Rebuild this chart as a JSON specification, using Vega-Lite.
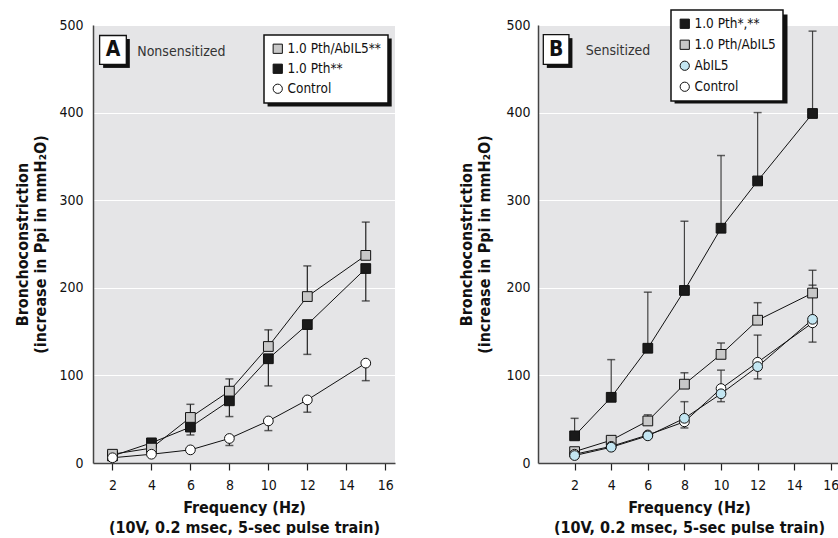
{
  "$schema": "https://vega.github.io/schema/vega-lite/v6.json",
  "padding": {"left": 14, "top": 9, "right": 0, "bottom": 0},
  "background": "white",
  "spacing": 63,
  "config": {
    "font": "DejaVu Sans Condensed",
    "view": {"fill": "#e5e5e7", "stroke": null},
    "axis": {
      "labelFont": "DejaVu Sans Condensed",
      "titleFont": "DejaVu Sans Condensed",
      "labelFontSize": 14,
      "titleFontSize": 16,
      "titleFontWeight": "bold",
      "labelColor": "#111",
      "titleColor": "#111",
      "domainColor": "#444",
      "domainWidth": 1.5,
      "gridColor": "white",
      "gridWidth": 1.2,
      "tickColor": "#222",
      "tickWidth": 1.2
    },
    "axisX": {"grid": false, "tickSize": 7, "labelPadding": 8, "titlePadding": 7, "titleLineHeight": 20, "labelFlush": false},
    "axisY": {"ticks": false, "labelPadding": 10, "titlePadding": 10, "titleLineHeight": 18},
    "legend": {
      "orient": "none",
      "fillColor": "white",
      "strokeColor": "#111",
      "strokeWidth": 1.5,
      "padding": 7,
      "rowPadding": 5,
      "labelFont": "DejaVu Sans Condensed",
      "labelFontSize": 13.5,
      "labelColor": "#111",
      "symbolStrokeColor": "#111",
      "symbolStrokeWidth": 1,
      "symbolSize": 85,
      "labelOffset": 3,
      "cornerRadius": 0
    }
  },
  "datasets": {
    "pts": [
      {"panel": "A", "group": "Pth", "freq": 2, "value": 8, "err": null},
      {"panel": "A", "group": "Pth", "freq": 4, "value": 23, "err": null},
      {"panel": "A", "group": "Pth", "freq": 6, "value": 41, "err": 32},
      {"panel": "A", "group": "Pth", "freq": 8, "value": 71, "err": 53},
      {"panel": "A", "group": "Pth", "freq": 10, "value": 119, "err": 88},
      {"panel": "A", "group": "Pth", "freq": 12, "value": 158, "err": 124},
      {"panel": "A", "group": "Pth", "freq": 15, "value": 222, "err": 185},
      {"panel": "A", "group": "PthAbIL5", "freq": 2, "value": 10, "err": null},
      {"panel": "A", "group": "PthAbIL5", "freq": 4, "value": 17, "err": null},
      {"panel": "A", "group": "PthAbIL5", "freq": 6, "value": 52, "err": 67},
      {"panel": "A", "group": "PthAbIL5", "freq": 8, "value": 82, "err": 96},
      {"panel": "A", "group": "PthAbIL5", "freq": 10, "value": 133, "err": 152},
      {"panel": "A", "group": "PthAbIL5", "freq": 12, "value": 190, "err": 225},
      {"panel": "A", "group": "PthAbIL5", "freq": 15, "value": 237, "err": 275},
      {"panel": "A", "group": "Control", "freq": 2, "value": 6, "err": null},
      {"panel": "A", "group": "Control", "freq": 4, "value": 10, "err": null},
      {"panel": "A", "group": "Control", "freq": 6, "value": 15, "err": null},
      {"panel": "A", "group": "Control", "freq": 8, "value": 28, "err": 20},
      {"panel": "A", "group": "Control", "freq": 10, "value": 48, "err": 37},
      {"panel": "A", "group": "Control", "freq": 12, "value": 72, "err": 58},
      {"panel": "A", "group": "Control", "freq": 15, "value": 114, "err": 94},
      {"panel": "B", "group": "Pth", "freq": 2, "value": 31, "err": 51},
      {"panel": "B", "group": "Pth", "freq": 4, "value": 75, "err": 118},
      {"panel": "B", "group": "Pth", "freq": 6, "value": 131, "err": 195},
      {"panel": "B", "group": "Pth", "freq": 8, "value": 197, "err": 276},
      {"panel": "B", "group": "Pth", "freq": 10, "value": 268, "err": 351},
      {"panel": "B", "group": "Pth", "freq": 12, "value": 322, "err": 400},
      {"panel": "B", "group": "Pth", "freq": 15, "value": 399, "err": 493},
      {"panel": "B", "group": "PthAbIL5", "freq": 2, "value": 13, "err": null},
      {"panel": "B", "group": "PthAbIL5", "freq": 4, "value": 26, "err": null},
      {"panel": "B", "group": "PthAbIL5", "freq": 6, "value": 48, "err": 55},
      {"panel": "B", "group": "PthAbIL5", "freq": 8, "value": 90, "err": 103},
      {"panel": "B", "group": "PthAbIL5", "freq": 10, "value": 124, "err": 137},
      {"panel": "B", "group": "PthAbIL5", "freq": 12, "value": 163, "err": 183},
      {"panel": "B", "group": "PthAbIL5", "freq": 15, "value": 194, "err": 220},
      {"panel": "B", "group": "Control", "freq": 2, "value": 10, "err": null},
      {"panel": "B", "group": "Control", "freq": 4, "value": 19, "err": null},
      {"panel": "B", "group": "Control", "freq": 6, "value": 32, "err": null},
      {"panel": "B", "group": "Control", "freq": 8, "value": 47, "err": 70},
      {"panel": "B", "group": "Control", "freq": 10, "value": 85, "err": 106},
      {"panel": "B", "group": "Control", "freq": 12, "value": 115, "err": 146},
      {"panel": "B", "group": "Control", "freq": 15, "value": 160, "err": 203},
      {"panel": "B", "group": "AbIL5", "freq": 2, "value": 8.5, "err": null},
      {"panel": "B", "group": "AbIL5", "freq": 4, "value": 18, "err": null},
      {"panel": "B", "group": "AbIL5", "freq": 6, "value": 31, "err": null},
      {"panel": "B", "group": "AbIL5", "freq": 8, "value": 51, "err": 40},
      {"panel": "B", "group": "AbIL5", "freq": 10, "value": 79, "err": 70},
      {"panel": "B", "group": "AbIL5", "freq": 12, "value": 110, "err": 96},
      {"panel": "B", "group": "AbIL5", "freq": 15, "value": 164, "err": 138}
    ]
  },
  "resolve": {
    "scale": {"fill": "independent", "shape": "independent", "stroke": "independent", "x": "independent", "y": "independent"},
    "legend": {"fill": "independent", "shape": "independent", "stroke": "independent"}
  },
  "hconcat": [
    {
      "width": 302,
      "height": 438,
      "layer": [
        {
          "data": {"name": "pts"},
          "transform": [{"filter": "datum.panel === 'A' && datum.err != null"}],
          "mark": {"type": "rule", "color": "#222", "strokeWidth": 1.2},
          "encoding": {
            "x": {"field": "freq", "type": "quantitative", "scale": {"domain": [1, 16.5], "nice": false, "zero": false},
              "axis": {"values": [2, 4, 6, 8, 10, 12, 14, 16], "title": ["Frequency (Hz)", "(10V, 0.2 msec, 5-sec pulse train)"]}},
            "y": {"field": "value", "type": "quantitative", "scale": {"domain": [0, 500], "nice": false},
              "axis": {"values": [0, 100, 200, 300, 400, 500], "title": ["Bronchoconstriction", "(increase in Ppi in mmH₂O)"]}},
            "y2": {"field": "err"}
          }
        },
        {
          "data": {"name": "pts"},
          "transform": [{"filter": "datum.panel === 'A' && datum.err != null"}],
          "mark": {"type": "tick", "orient": "horizontal", "color": "#222", "size": 8, "thickness": 1.5},
          "encoding": {
            "x": {"field": "freq", "type": "quantitative"},
            "y": {"field": "err", "type": "quantitative"}
          }
        },
        {
          "data": {"name": "pts"},
          "transform": [{"filter": "datum.panel === 'A'"}],
          "mark": {"type": "line", "color": "#111", "strokeWidth": 1},
          "encoding": {
            "x": {"field": "freq", "type": "quantitative"},
            "y": {"field": "value", "type": "quantitative"},
            "detail": {"field": "group"}
          }
        },
        {
          "data": {"values": [{}]},
          "mark": {"type": "rect", "fill": "#111", "xOffset": 3.5, "x2Offset": 3.5, "yOffset": 3.5, "y2Offset": 3.5},
          "encoding": {"x": {"datum": 9.78}, "x2": {"datum": 16.15}, "y": {"datum": 488.6}, "y2": {"datum": 411}}
        },
        {
          "data": {"name": "pts"},
          "transform": [{"filter": "datum.panel === 'A'"}],
          "mark": {"type": "point", "filled": true, "strokeWidth": 1, "size": 95, "opacity": 1},
          "encoding": {
            "x": {"field": "freq", "type": "quantitative"},
            "y": {"field": "value", "type": "quantitative"},
            "fill": {"field": "group", "type": "nominal",
              "scale": {"domain": ["PthAbIL5", "Pth", "Control"], "range": ["#c8c8c8", "#1a1a1a", "#ffffff"]},
              "legend": {"title": null, "legendX": 171, "legendY": 10, "labelExpr": "{'PthAbIL5': '1.0 Pth/AbIL5**', 'Pth': '1.0 Pth**', 'Control': 'Control'}[datum.label]"}},
            "shape": {"field": "group", "type": "nominal",
              "scale": {"domain": ["PthAbIL5", "Pth", "Control"], "range": ["square", "square", "circle"]},
              "legend": {"title": null, "legendX": 171, "legendY": 10, "labelExpr": "{'PthAbIL5': '1.0 Pth/AbIL5**', 'Pth': '1.0 Pth**', 'Control': 'Control'}[datum.label]"}},
            "stroke": {"field": "group", "type": "nominal",
              "scale": {"domain": ["PthAbIL5", "Pth", "Control"], "range": ["#111111", "#111111", "#111111"]},
              "legend": {"title": null, "legendX": 171, "legendY": 10, "labelExpr": "{'PthAbIL5': '1.0 Pth/AbIL5**', 'Pth': '1.0 Pth**', 'Control': 'Control'}[datum.label]"}}
          }
        },
        {
          "data": {"values": [{}]},
          "mark": {"type": "rect", "fill": "#111", "xOffset": 3.5, "x2Offset": 3.5, "yOffset": 3.5, "y2Offset": 3.5},
          "encoding": {"x": {"datum": 1.34}, "x2": {"datum": 2.71}, "y": {"datum": 488}, "y2": {"datum": 455}}
        },
        {
          "data": {"values": [{}]},
          "mark": {"type": "rect", "fill": "white", "stroke": "#111", "strokeWidth": 1.3},
          "encoding": {"x": {"datum": 1.34}, "x2": {"datum": 2.71}, "y": {"datum": 488}, "y2": {"datum": 455}}
        },
        {
          "data": {"values": [{}]},
          "mark": {"type": "text", "text": "A", "font": "DejaVu Sans Condensed", "fontWeight": "bold", "fontSize": 21, "color": "#111", "align": "center", "baseline": "middle"},
          "encoding": {"x": {"datum": 2.03}, "y": {"datum": 471.5}}
        },
        {
          "data": {"values": [{}]},
          "mark": {"type": "text", "text": "Nonsensitized", "font": "DejaVu Sans Condensed", "fontSize": 14, "color": "#333", "align": "left", "baseline": "middle"},
          "encoding": {"x": {"datum": 3.27}, "y": {"datum": 469.5}}
        }
      ]
    },
    {
      "width": 302,
      "height": 438,
      "layer": [
        {
          "data": {"name": "pts"},
          "transform": [{"filter": "datum.panel === 'B' && datum.err != null"}],
          "mark": {"type": "rule", "color": "#444", "strokeWidth": 1.2},
          "encoding": {
            "x": {"field": "freq", "type": "quantitative", "scale": {"domain": [0, 16.5], "nice": false, "zero": false},
              "axis": {"values": [2, 4, 6, 8, 10, 12, 14, 16], "title": ["Frequency (Hz)", "(10V, 0.2 msec, 5-sec pulse train)"]}},
            "y": {"field": "value", "type": "quantitative", "scale": {"domain": [0, 500], "nice": false},
              "axis": {"values": [0, 100, 200, 300, 400, 500], "labelPadding": 8, "titlePadding": 13, "title": ["Bronchoconstriction", "(increase in Ppi in mmH₂O)"]}},
            "y2": {"field": "err"}
          }
        },
        {
          "data": {"name": "pts"},
          "transform": [{"filter": "datum.panel === 'B' && datum.err != null"}],
          "mark": {"type": "tick", "orient": "horizontal", "color": "#222", "size": 8, "thickness": 1.5},
          "encoding": {
            "x": {"field": "freq", "type": "quantitative"},
            "y": {"field": "err", "type": "quantitative"}
          }
        },
        {
          "data": {"name": "pts"},
          "transform": [{"filter": "datum.panel === 'B'"}],
          "mark": {"type": "line", "color": "#111", "strokeWidth": 1},
          "encoding": {
            "x": {"field": "freq", "type": "quantitative"},
            "y": {"field": "value", "type": "quantitative"},
            "detail": {"field": "group"}
          }
        },
        {
          "data": {"values": [{}]},
          "mark": {"type": "rect", "fill": "#111", "xOffset": 3.5, "x2Offset": 3.5, "yOffset": 3.5, "y2Offset": 3.5},
          "encoding": {"x": {"datum": 7.27}, "x2": {"datum": 13.44}, "y": {"datum": 516}, "y2": {"datum": 414.4}}
        },
        {
          "data": {"name": "pts"},
          "transform": [{"filter": "datum.panel === 'B'"}],
          "mark": {"type": "point", "filled": true, "strokeWidth": 1, "size": 95, "opacity": 1},
          "encoding": {
            "x": {"field": "freq", "type": "quantitative"},
            "y": {"field": "value", "type": "quantitative"},
            "fill": {"field": "group", "type": "nominal",
              "scale": {"domain": ["Pth", "PthAbIL5", "AbIL5", "Control"], "range": ["#1a1a1a", "#c8c8c8", "#c3e6f2", "#ffffff"]},
              "legend": {"title": null, "legendX": 133, "legendY": -15, "rowPadding": 6, "labelExpr": "{'Pth': '1.0 Pth*,**', 'PthAbIL5': '1.0 Pth/AbIL5', 'AbIL5': 'AbIL5', 'Control': 'Control'}[datum.label]"}},
            "shape": {"field": "group", "type": "nominal",
              "scale": {"domain": ["Pth", "PthAbIL5", "AbIL5", "Control"], "range": ["square", "square", "circle", "circle"]},
              "legend": {"title": null, "legendX": 133, "legendY": -15, "rowPadding": 6, "labelExpr": "{'Pth': '1.0 Pth*,**', 'PthAbIL5': '1.0 Pth/AbIL5', 'AbIL5': 'AbIL5', 'Control': 'Control'}[datum.label]"}},
            "stroke": {"field": "group", "type": "nominal",
              "scale": {"domain": ["Pth", "PthAbIL5", "AbIL5", "Control"], "range": ["#111111", "#111111", "#111111", "#111111"]},
              "legend": {"title": null, "legendX": 133, "legendY": -15, "rowPadding": 6, "labelExpr": "{'Pth': '1.0 Pth*,**', 'PthAbIL5': '1.0 Pth/AbIL5', 'AbIL5': 'AbIL5', 'Control': 'Control'}[datum.label]"}}
          }
        },
        {
          "data": {"values": [{}]},
          "mark": {"type": "rect", "fill": "#111", "xOffset": 3.5, "x2Offset": 3.5, "yOffset": 3.5, "y2Offset": 3.5},
          "encoding": {"x": {"datum": 0.29}, "x2": {"datum": 1.69}, "y": {"datum": 489}, "y2": {"datum": 455}}
        },
        {
          "data": {"values": [{}]},
          "mark": {"type": "rect", "fill": "white", "stroke": "#111", "strokeWidth": 1.3},
          "encoding": {"x": {"datum": 0.29}, "x2": {"datum": 1.69}, "y": {"datum": 489}, "y2": {"datum": 455}}
        },
        {
          "data": {"values": [{}]},
          "mark": {"type": "text", "text": "B", "font": "DejaVu Sans Condensed", "fontWeight": "bold", "fontSize": 21, "color": "#111", "align": "center", "baseline": "middle"},
          "encoding": {"x": {"datum": 0.99}, "y": {"datum": 472}}
        },
        {
          "data": {"values": [{}]},
          "mark": {"type": "text", "text": "Sensitized", "font": "DejaVu Sans Condensed", "fontSize": 14, "color": "#333", "align": "left", "baseline": "middle"},
          "encoding": {"x": {"datum": 2.61}, "y": {"datum": 470.5}}
        }
      ]
    }
  ]
}
